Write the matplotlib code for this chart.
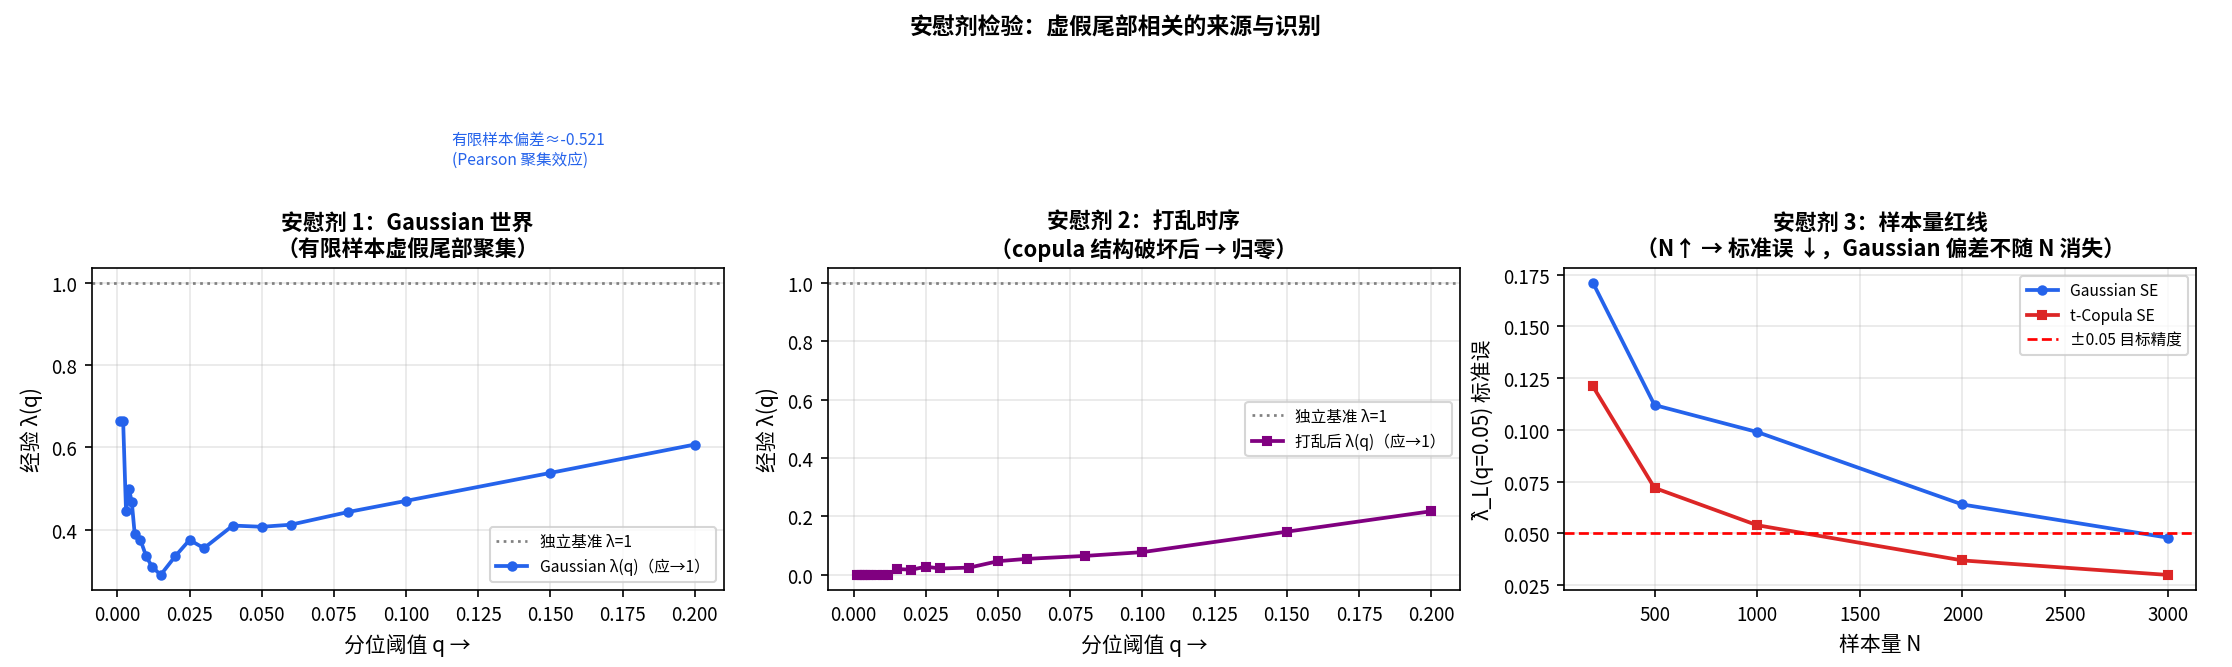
import matplotlib
matplotlib.use("Agg")
import matplotlib.pyplot as plt
from matplotlib.ticker import MultipleLocator

plt.rcParams['font.family'] = ['Noto Sans CJK SC', 'DejaVu Sans']
plt.rcParams['axes.unicode_minus'] = False

q = [0.001, 0.002, 0.003, 0.004, 0.005, 0.006, 0.008, 0.01, 0.012, 0.015, 0.02, 0.025, 0.03, 0.04, 0.05, 0.06, 0.08, 0.1, 0.15, 0.2]
lam_gauss = [0.665, 0.665, 0.445, 0.5, 0.467, 0.39, 0.375, 0.335, 0.31, 0.29, 0.335, 0.375, 0.355, 0.41, 0.407, 0.412, 0.443, 0.47, 0.538, 0.607]
lam_shuf = [0.0, 0.0, 0.0, 0.0, 0.0, 0.0, 0.0, 0.0, 0.0, 0.02, 0.018, 0.028, 0.022, 0.025, 0.047, 0.055, 0.065, 0.078, 0.148, 0.218]
N = [200, 500, 1000, 2000, 3000]
se_gauss = [0.171, 0.112, 0.099, 0.064, 0.048]
se_t = [0.121, 0.072, 0.054, 0.037, 0.030]

fig, axes = plt.subplots(1, 3, figsize=(14.88, 4.453), dpi=150)
fig.subplots_adjust(left=0.041, right=0.984, top=0.597, bottom=0.116, wspace=0.165)
fig.suptitle('安慰剂检验：虚假尾部相关的来源与识别', fontsize=11, fontweight='bold', y=0.975)

ax = axes[0]
ax.axhline(1.0, color='gray', ls=':', lw=1.3, label='独立基准 λ=1')
ax.plot(q, lam_gauss, '-o', color='#2563eb', lw=1.8, ms=4, label='Gaussian λ(q)（应→1）')
ax.set_title('安慰剂 1：Gaussian 世界\n（有限样本虚假尾部聚集）', fontsize=10.5, fontweight='bold')
ax.set_xlabel('分位阈值 q →', fontsize=10)
ax.set_ylabel('经验 λ(q)', fontsize=10)
ax.yaxis.set_major_locator(MultipleLocator(0.2))
ax.legend(loc='lower right', fontsize=7.5)
ax.text(0.57, 1.37, '有限样本偏差≈-0.521\n(Pearson 聚集效应)', transform=ax.transAxes,
        color='#2563eb', fontsize=7.5, va='center')

ax = axes[1]
ax.axhline(1.0, color='gray', ls=':', lw=1.3, label='独立基准 λ=1')
ax.plot(q, lam_shuf, '-s', color='purple', lw=1.8, ms=4, label='打乱后 λ(q)（应→1）')
ax.set_title('安慰剂 2：打乱时序\n（copula 结构破坏后 → 归零）', fontsize=10.5, fontweight='bold')
ax.set_xlabel('分位阈值 q →', fontsize=10)
ax.set_ylabel('经验 λ(q)', fontsize=10)
ax.set_ylim(-0.05, 1.05)
ax.legend(loc='center right', fontsize=7.5)

ax = axes[2]
ax.plot(N, se_gauss, '-o', color='#2563eb', lw=1.8, ms=4, label='Gaussian SE')
ax.plot(N, se_t, '-s', color='#dc2626', lw=1.8, ms=4, label='t-Copula SE')
ax.axhline(0.05, color='red', ls='--', lw=1.3, label='±0.05 目标精度')
ax.set_title('安慰剂 3：样本量红线\n（N↑ → 标准误 ↓，Gaussian 偏差不随 N 消失）', fontsize=10.5, fontweight='bold')
ax.set_xlabel('样本量 N', fontsize=10)
ax.set_ylabel('λ̂_L(q=0.05) 标准误', fontsize=10)
ax.yaxis.set_major_locator(MultipleLocator(0.025))
ax.legend(loc='upper right', fontsize=7.5)

for a in axes:
    a.grid(True, alpha=0.3)
    a.tick_params(labelsize=9)

fig.savefig('out.png', dpi=150)
